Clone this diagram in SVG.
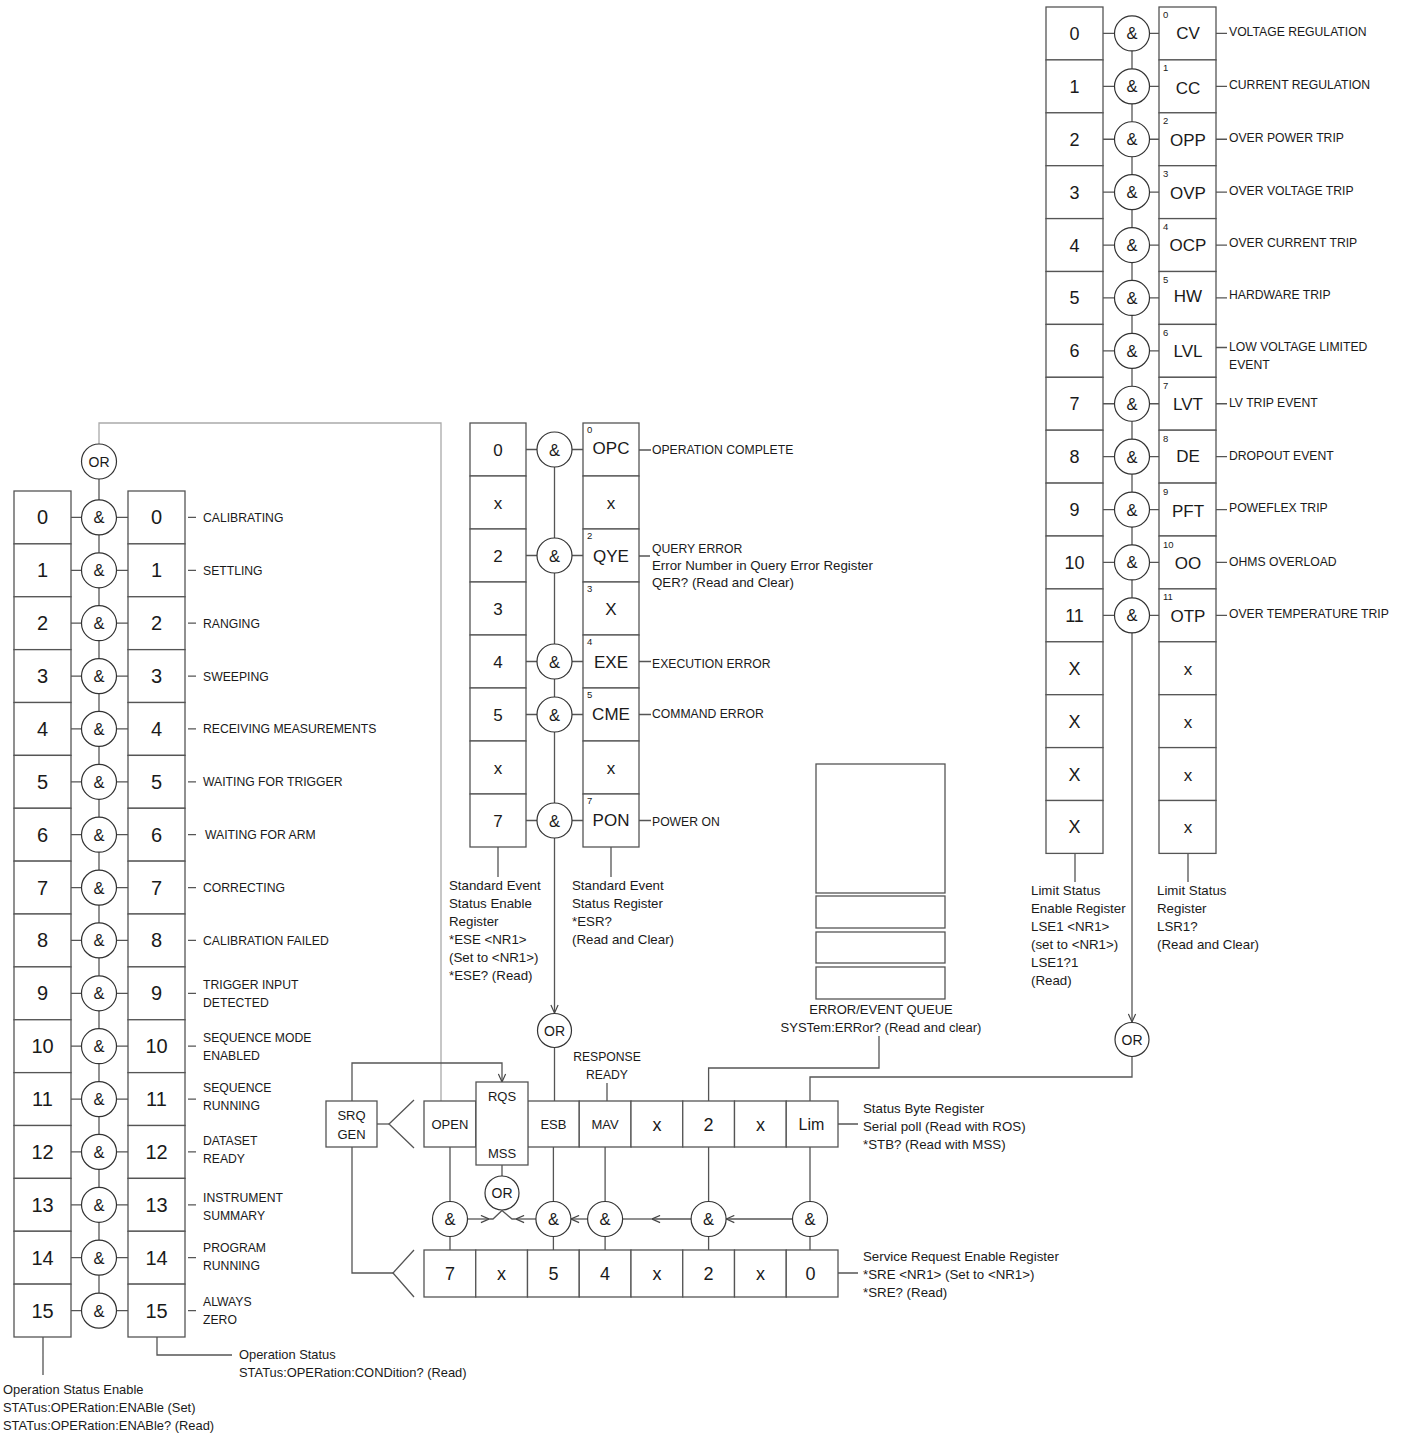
<svg xmlns="http://www.w3.org/2000/svg" width="1404" height="1437" viewBox="0 0 1404 1437">
<style>
.bg{fill:#fff}
.box{fill:#fff;stroke:#555;stroke-width:1.3}
.gate{fill:#fff;stroke:#333;stroke-width:1.2}
.ln{fill:none;stroke:#555;stroke-width:1.3}
.lg{fill:none;stroke:#aaa;stroke-width:1.3}
text{font-family:"Liberation Sans",Arial,sans-serif;fill:#1a1a1a}
.c{text-anchor:middle}
.d20{font-size:20px}
.d17{font-size:17px}
.d16{font-size:16px}
.d18{font-size:18px}
.g{font-size:14px;text-anchor:middle}
.amp{font-size:16.5px;text-anchor:middle}
.cap{font-size:12.2px}
.lab{font-size:13.3px}
.lab2{font-size:12.9px}
.sm{font-size:13px}
.sup{font-size:9.5px}
</style>
<defs>
<marker id="arr" viewBox="0 0 10 10" refX="10" refY="5" markerWidth="9" markerHeight="9" markerUnits="userSpaceOnUse" orient="auto"><path d="M1,1 L10,5 L1,9" fill="none" stroke="#444" stroke-width="1.3"/></marker>
</defs>
<rect class="bg" x="0" y="0" width="1404" height="1437"/>

<g id="connectors">
<!-- left block -->
<polyline class="lg" points="99,444 99,423 441,423 441,1101"/>
<line class="ln" x1="99" y1="479" x2="99" y2="1310"/>
<g class="ln">
<path d="M71,517.4H82M117,517.4H128M71,570.3H82M117,570.3H128M71,623.2H82M117,623.2H128M71,676.1H82M117,676.1H128M71,728.9H82M117,728.9H128M71,781.8H82M117,781.8H128M71,834.7H82M117,834.7H128M71,887.6H82M117,887.6H128M71,940.4H82M117,940.4H128M71,993.3H82M117,993.3H128M71,1046.2H82M117,1046.2H128M71,1099.1H82M117,1099.1H128M71,1151.9H82M117,1151.9H128M71,1204.8H82M117,1204.8H128M71,1257.7H82M117,1257.7H128M71,1310.6H82M117,1310.6H128"/>
<path d="M188,517.4H196M188,570.3H196M188,623.2H196M188,676.1H196M188,728.9H196M188,781.8H196M188,834.7H196M188,887.6H196M188,940.4H196M188,993.3H196M188,1046.2H196M188,1099.1H196M188,1151.9H196M188,1204.8H196M188,1257.7H196M188,1310.6H196"/>
<path d="M43,1337V1375M157,1337V1355H232"/>
</g>
<!-- middle block -->
<line class="ln" x1="554.5" y1="449.5" x2="554.5" y2="1013" marker-end="url(#arr)"/>
<g class="ln">
<path d="M526,449.5H537M572,449.5H583M526,555.5H537M572,555.5H583M526,661.5H537M572,661.5H583M526,714.5H537M572,714.5H583M526,820.5H537M572,820.5H583"/>
<path d="M639,450H651M639,556H650M639,661.5H651M639,714.5H651M639,820.5H651"/>
<path d="M498,847V877M611,847V877"/>
<path d="M554.5,1047.5V1101M607,1083V1101"/>
</g>
<!-- right block -->
<line class="ln" x1="1132" y1="33" x2="1132" y2="1022" marker-end="url(#arr)"/>
<g class="ln">
<path d="M1103,33.45H1114.5M1149.5,33.45H1159M1103,86.35H1114.5M1149.5,86.35H1159M1103,139.25H1114.5M1149.5,139.25H1159M1103,192.15H1114.5M1149.5,192.15H1159M1103,245.05H1114.5M1149.5,245.05H1159M1103,297.95H1114.5M1149.5,297.95H1159M1103,350.85H1114.5M1149.5,350.85H1159M1103,403.75H1114.5M1149.5,403.75H1159M1103,456.65H1114.5M1149.5,456.65H1159M1103,509.55H1114.5M1149.5,509.55H1159M1103,562.45H1114.5M1149.5,562.45H1159M1103,615.35H1114.5M1149.5,615.35H1159"/>
<path d="M1216,33.45H1227M1216,86.35H1227M1216,139.25H1227M1216,192.15H1227M1216,245.05H1227M1216,297.95H1227M1216,347.5H1227M1216,403.75H1227M1216,456.65H1227M1216,509.55H1227M1216,562.45H1227M1216,615.35H1227"/>
<path d="M1075,853.4V882M1188,853.4V882"/>
</g>
<!-- status byte area -->
<g class="ln">
<polyline points="708.6,1101 708.6,1068 879,1068 879,1036"/>
<polyline points="810,1101 810,1077 1132,1077 1132,1056.5"/>
<polyline points="377,1124 389,1124"/>
<polyline points="414,1100 389,1124 414,1148"/>
<polyline points="352,1147 352,1273 393,1273"/>
<polyline points="414,1250 393,1273 414,1297"/>
<path d="M450,1147V1250M553.4,1147V1250M605.1,1147V1250M708.6,1147V1250M810,1147V1250M502,1165V1176"/>
<polyline points="489,1219 493,1219 502,1210.5"/>
<polyline points="516,1219 512,1219 502,1210.5"/>
<line x1="622.6" y1="1219" x2="652" y2="1219"/>
<path d="M838,1124H858M838,1273H858"/>
</g>
<polyline class="ln" points="352,1101 352,1063 502,1063 502,1082" marker-end="url(#arr)"/>
<line class="ln" x1="467.5" y1="1219" x2="489" y2="1219" marker-end="url(#arr)"/>
<line class="ln" x1="536" y1="1219" x2="516" y2="1219" marker-end="url(#arr)"/>
<line class="ln" x1="588" y1="1219" x2="571" y2="1219" marker-end="url(#arr)"/>
<line class="ln" x1="691" y1="1219" x2="652" y2="1219" marker-end="url(#arr)"/>
<line class="ln" x1="792.5" y1="1219" x2="726.2" y2="1219" marker-end="url(#arr)"/>
</g>

<!-- LEFT: Operation Status Enable register -->
<g id="op-enable">
<rect class="box" x="14" y="491" width="57" height="52.875"/>
<rect class="box" x="14" y="543.875" width="57" height="52.875"/>
<rect class="box" x="14" y="596.75" width="57" height="52.875"/>
<rect class="box" x="14" y="649.625" width="57" height="52.875"/>
<rect class="box" x="14" y="702.5" width="57" height="52.875"/>
<rect class="box" x="14" y="755.375" width="57" height="52.875"/>
<rect class="box" x="14" y="808.25" width="57" height="52.875"/>
<rect class="box" x="14" y="861.125" width="57" height="52.875"/>
<rect class="box" x="14" y="914" width="57" height="52.875"/>
<rect class="box" x="14" y="966.875" width="57" height="52.875"/>
<rect class="box" x="14" y="1019.75" width="57" height="52.875"/>
<rect class="box" x="14" y="1072.625" width="57" height="52.875"/>
<rect class="box" x="14" y="1125.5" width="57" height="52.875"/>
<rect class="box" x="14" y="1178.375" width="57" height="52.875"/>
<rect class="box" x="14" y="1231.25" width="57" height="52.875"/>
<rect class="box" x="14" y="1284.125" width="57" height="52.875"/>
<g class="c d20">
<text x="42.5" y="524.4">0</text><text x="42.5" y="577.3">1</text><text x="42.5" y="630.2">2</text><text x="42.5" y="683.1">3</text>
<text x="42.5" y="735.9">4</text><text x="42.5" y="788.8">5</text><text x="42.5" y="841.7">6</text><text x="42.5" y="894.6">7</text>
<text x="42.5" y="947.4">8</text><text x="42.5" y="1000.3">9</text><text x="42.5" y="1053.2">10</text><text x="42.5" y="1106.1">11</text>
<text x="42.5" y="1158.9">12</text><text x="42.5" y="1211.8">13</text><text x="42.5" y="1264.7">14</text><text x="42.5" y="1317.6">15</text>
</g>
</g>

<!-- LEFT: Operation Status condition register -->
<g id="op-condition">
<rect class="box" x="128" y="491" width="57" height="52.875"/>
<rect class="box" x="128" y="543.875" width="57" height="52.875"/>
<rect class="box" x="128" y="596.75" width="57" height="52.875"/>
<rect class="box" x="128" y="649.625" width="57" height="52.875"/>
<rect class="box" x="128" y="702.5" width="57" height="52.875"/>
<rect class="box" x="128" y="755.375" width="57" height="52.875"/>
<rect class="box" x="128" y="808.25" width="57" height="52.875"/>
<rect class="box" x="128" y="861.125" width="57" height="52.875"/>
<rect class="box" x="128" y="914" width="57" height="52.875"/>
<rect class="box" x="128" y="966.875" width="57" height="52.875"/>
<rect class="box" x="128" y="1019.75" width="57" height="52.875"/>
<rect class="box" x="128" y="1072.625" width="57" height="52.875"/>
<rect class="box" x="128" y="1125.5" width="57" height="52.875"/>
<rect class="box" x="128" y="1178.375" width="57" height="52.875"/>
<rect class="box" x="128" y="1231.25" width="57" height="52.875"/>
<rect class="box" x="128" y="1284.125" width="57" height="52.875"/>
<g class="c d20">
<text x="156.5" y="524.4">0</text><text x="156.5" y="577.3">1</text><text x="156.5" y="630.2">2</text><text x="156.5" y="683.1">3</text>
<text x="156.5" y="735.9">4</text><text x="156.5" y="788.8">5</text><text x="156.5" y="841.7">6</text><text x="156.5" y="894.6">7</text>
<text x="156.5" y="947.4">8</text><text x="156.5" y="1000.3">9</text><text x="156.5" y="1053.2">10</text><text x="156.5" y="1106.1">11</text>
<text x="156.5" y="1158.9">12</text><text x="156.5" y="1211.8">13</text><text x="156.5" y="1264.7">14</text><text x="156.5" y="1317.6">15</text>
</g>
</g>

<!-- LEFT gates -->
<g id="op-gates">
<circle class="gate" cx="99" cy="461.5" r="17.5"/><text class="g" x="99" y="466.5">OR</text>
<circle class="gate" cx="99" cy="517.4" r="17.5"/><text class="amp" x="99" y="523.4">&amp;</text>
<circle class="gate" cx="99" cy="570.3" r="17.5"/><text class="amp" x="99" y="576.3">&amp;</text>
<circle class="gate" cx="99" cy="623.2" r="17.5"/><text class="amp" x="99" y="629.2">&amp;</text>
<circle class="gate" cx="99" cy="676.1" r="17.5"/><text class="amp" x="99" y="682.1">&amp;</text>
<circle class="gate" cx="99" cy="728.9" r="17.5"/><text class="amp" x="99" y="734.9">&amp;</text>
<circle class="gate" cx="99" cy="781.8" r="17.5"/><text class="amp" x="99" y="787.8">&amp;</text>
<circle class="gate" cx="99" cy="834.7" r="17.5"/><text class="amp" x="99" y="840.7">&amp;</text>
<circle class="gate" cx="99" cy="887.6" r="17.5"/><text class="amp" x="99" y="893.6">&amp;</text>
<circle class="gate" cx="99" cy="940.4" r="17.5"/><text class="amp" x="99" y="946.4">&amp;</text>
<circle class="gate" cx="99" cy="993.3" r="17.5"/><text class="amp" x="99" y="999.3">&amp;</text>
<circle class="gate" cx="99" cy="1046.2" r="17.5"/><text class="amp" x="99" y="1052.2">&amp;</text>
<circle class="gate" cx="99" cy="1099.1" r="17.5"/><text class="amp" x="99" y="1105.1">&amp;</text>
<circle class="gate" cx="99" cy="1151.9" r="17.5"/><text class="amp" x="99" y="1157.9">&amp;</text>
<circle class="gate" cx="99" cy="1204.8" r="17.5"/><text class="amp" x="99" y="1210.8">&amp;</text>
<circle class="gate" cx="99" cy="1257.7" r="17.5"/><text class="amp" x="99" y="1263.7">&amp;</text>
<circle class="gate" cx="99" cy="1310.6" r="17.5"/><text class="amp" x="99" y="1316.6">&amp;</text>
</g>

<g id="op-labels" class="cap">
<text x="203" y="521.8">CALIBRATING</text>
<text x="203" y="574.7">SETTLING</text>
<text x="203" y="627.6">RANGING</text>
<text x="203" y="680.5">SWEEPING</text>
<text x="203" y="733.3">RECEIVING MEASUREMENTS</text>
<text x="203" y="786.2">WAITING FOR TRIGGER</text>
<text x="205" y="839.1">WAITING FOR ARM</text>
<text x="203" y="892">CORRECTING</text>
<text x="203" y="944.8">CALIBRATION FAILED</text>
<text x="203" y="989.4">TRIGGER INPUT</text><text x="203" y="1007.4">DETECTED</text>
<text x="203" y="1042.4">SEQUENCE MODE</text><text x="203" y="1060.4">ENABLED</text>
<text x="203" y="1092.4">SEQUENCE</text><text x="203" y="1110.4">RUNNING</text>
<text x="203" y="1145.4">DATASET</text><text x="203" y="1163.4">READY</text>
<text x="203" y="1202.4">INSTRUMENT</text><text x="203" y="1220.4">SUMMARY</text>
<text x="203" y="1252.4">PROGRAM</text><text x="203" y="1270.4">RUNNING</text>
<text x="203" y="1306.4">ALWAYS</text><text x="203" y="1324.4">ZERO</text>
</g>
<g id="op-captions" class="lab2">
<text x="3" y="1393.7">Operation Status Enable</text>
<text x="3" y="1411.7">STATus:OPERation:ENABle (Set)</text>
<text x="3" y="1429.7">STATus:OPERation:ENABle? (Read)</text>
<text x="239" y="1358.7">Operation Status</text>
<text x="239" y="1376.7">STATus:OPERation:CONDition? (Read)</text>
</g>

<!-- MIDDLE: Standard Event Status Enable register -->
<g id="ese-reg">
<rect class="box" x="470" y="423" width="56" height="53"/>
<rect class="box" x="470" y="476" width="56" height="53"/>
<rect class="box" x="470" y="529" width="56" height="53"/>
<rect class="box" x="470" y="582" width="56" height="53"/>
<rect class="box" x="470" y="635" width="56" height="53"/>
<rect class="box" x="470" y="688" width="56" height="53"/>
<rect class="box" x="470" y="741" width="56" height="53"/>
<rect class="box" x="470" y="794" width="56" height="53"/>
<g class="c d17">
<text x="498" y="455.5">0</text><text x="498" y="508.5">x</text><text x="498" y="561.5">2</text><text x="498" y="614.5">3</text>
<text x="498" y="667.5">4</text><text x="498" y="720.5">5</text><text x="498" y="773.5">x</text><text x="498" y="826.5">7</text>
</g>
</g>
<!-- MIDDLE: Standard Event Status register -->
<g id="esr-reg">
<rect class="box" x="583" y="423" width="56" height="53"/>
<rect class="box" x="583" y="476" width="56" height="53"/>
<rect class="box" x="583" y="529" width="56" height="53"/>
<rect class="box" x="583" y="582" width="56" height="53"/>
<rect class="box" x="583" y="635" width="56" height="53"/>
<rect class="box" x="583" y="688" width="56" height="53"/>
<rect class="box" x="583" y="741" width="56" height="53"/>
<rect class="box" x="583" y="794" width="56" height="53"/>
<g class="c d17">
<text x="611" y="454">OPC</text><text x="611" y="508.5">x</text><text x="611" y="561.5">QYE</text><text x="611" y="614.5">X</text>
<text x="611" y="667.5">EXE</text><text x="611" y="719.5">CME</text><text x="611" y="773.5">x</text><text x="611" y="825.5">PON</text>
</g>
<g class="sup">
<text x="587" y="433">0</text><text x="587" y="539">2</text><text x="587" y="592">3</text><text x="587" y="645">4</text><text x="587" y="698">5</text><text x="587" y="804">7</text>
</g>
</g>
<g id="es-gates">
<circle class="gate" cx="554.5" cy="449.5" r="17.5"/><text class="amp" x="554.5" y="455.5">&amp;</text>
<circle class="gate" cx="554.5" cy="555.5" r="17.5"/><text class="amp" x="554.5" y="561.5">&amp;</text>
<circle class="gate" cx="554.5" cy="661.5" r="17.5"/><text class="amp" x="554.5" y="667.5">&amp;</text>
<circle class="gate" cx="554.5" cy="714.5" r="17.5"/><text class="amp" x="554.5" y="720.5">&amp;</text>
<circle class="gate" cx="554.5" cy="820.5" r="17.5"/><text class="amp" x="554.5" y="826.5">&amp;</text>
<circle class="gate" cx="554.5" cy="1030.5" r="17"/><text class="g" x="554.5" y="1035.5">OR</text>
</g>
<g id="es-labels">
<g class="cap">
<text x="652" y="454.3">OPERATION COMPLETE</text>
<text x="652" y="553.3">QUERY ERROR</text>
<text x="652" y="668.3">EXECUTION ERROR</text>
<text x="652" y="718.3">COMMAND ERROR</text>
<text x="652" y="826.3">POWER ON</text>
</g>
<g class="lab">
<text x="652" y="569.5">Error Number in Query Error Register</text>
<text x="652" y="586.5">QER? (Read and Clear)</text>
<text x="449" y="889.7">Standard Event</text>
<text x="449" y="907.7">Status Enable</text>
<text x="449" y="925.7">Register</text>
<text x="449" y="943.7">*ESE &lt;NR1&gt;</text>
<text x="449" y="961.7">(Set to &lt;NR1&gt;)</text>
<text x="449" y="979.7">*ESE? (Read)</text>
<text x="572" y="889.7">Standard Event</text>
<text x="572" y="907.7">Status Register</text>
<text x="572" y="925.7">*ESR?</text>
<text x="572" y="943.7">(Read and Clear)</text>
</g>
</g>

<!-- RIGHT: Limit Status Enable register -->
<g id="lse-reg">
<rect class="box" x="1046" y="7" width="57" height="52.9"/>
<rect class="box" x="1046" y="59.9" width="57" height="52.9"/>
<rect class="box" x="1046" y="112.8" width="57" height="52.9"/>
<rect class="box" x="1046" y="165.7" width="57" height="52.9"/>
<rect class="box" x="1046" y="218.6" width="57" height="52.9"/>
<rect class="box" x="1046" y="271.5" width="57" height="52.9"/>
<rect class="box" x="1046" y="324.4" width="57" height="52.9"/>
<rect class="box" x="1046" y="377.3" width="57" height="52.9"/>
<rect class="box" x="1046" y="430.2" width="57" height="52.9"/>
<rect class="box" x="1046" y="483.1" width="57" height="52.9"/>
<rect class="box" x="1046" y="536" width="57" height="52.9"/>
<rect class="box" x="1046" y="588.9" width="57" height="52.9"/>
<rect class="box" x="1046" y="641.8" width="57" height="52.9"/>
<rect class="box" x="1046" y="694.7" width="57" height="52.9"/>
<rect class="box" x="1046" y="747.6" width="57" height="52.9"/>
<rect class="box" x="1046" y="800.5" width="57" height="52.9"/>
<g class="c d18">
<text x="1074.5" y="39.9">0</text><text x="1074.5" y="92.8">1</text><text x="1074.5" y="145.7">2</text><text x="1074.5" y="198.6">3</text>
<text x="1074.5" y="251.5">4</text><text x="1074.5" y="304.4">5</text><text x="1074.5" y="357.3">6</text><text x="1074.5" y="410.2">7</text>
<text x="1074.5" y="463.1">8</text><text x="1074.5" y="516">9</text><text x="1074.5" y="568.9">10</text><text x="1074.5" y="621.8">11</text>
<text x="1074.5" y="674.7">X</text><text x="1074.5" y="727.6">X</text><text x="1074.5" y="780.5">X</text><text x="1074.5" y="833.4">X</text>
</g>
</g>
<!-- RIGHT: Limit Status register -->
<g id="lsr-reg">
<rect class="box" x="1159" y="7" width="57" height="52.9"/>
<rect class="box" x="1159" y="59.9" width="57" height="52.9"/>
<rect class="box" x="1159" y="112.8" width="57" height="52.9"/>
<rect class="box" x="1159" y="165.7" width="57" height="52.9"/>
<rect class="box" x="1159" y="218.6" width="57" height="52.9"/>
<rect class="box" x="1159" y="271.5" width="57" height="52.9"/>
<rect class="box" x="1159" y="324.4" width="57" height="52.9"/>
<rect class="box" x="1159" y="377.3" width="57" height="52.9"/>
<rect class="box" x="1159" y="430.2" width="57" height="52.9"/>
<rect class="box" x="1159" y="483.1" width="57" height="52.9"/>
<rect class="box" x="1159" y="536" width="57" height="52.9"/>
<rect class="box" x="1159" y="588.9" width="57" height="52.9"/>
<rect class="box" x="1159" y="641.8" width="57" height="52.9"/>
<rect class="box" x="1159" y="694.7" width="57" height="52.9"/>
<rect class="box" x="1159" y="747.6" width="57" height="52.9"/>
<rect class="box" x="1159" y="800.5" width="57" height="52.9"/>
<g class="c d17">
<text x="1188" y="38.9">CV</text><text x="1188" y="93.8">CC</text><text x="1188" y="145.7">OPP</text><text x="1188" y="198.6">OVP</text>
<text x="1188" y="250.5">OCP</text><text x="1188" y="302.4">HW</text><text x="1188" y="357.3">LVL</text><text x="1188" y="410.2">LVT</text>
<text x="1188" y="462.1">DE</text><text x="1188" y="517">PFT</text><text x="1188" y="568.9">OO</text><text x="1188" y="621.8">OTP</text>
<text x="1188" y="674.7">x</text><text x="1188" y="727.6">x</text><text x="1188" y="780.5">x</text><text x="1188" y="833.4">x</text>
</g>
<g class="sup">
<text x="1163" y="18">0</text><text x="1163" y="71">1</text><text x="1163" y="124">2</text><text x="1163" y="177">3</text>
<text x="1163" y="230">4</text><text x="1163" y="283">5</text><text x="1163" y="336">6</text><text x="1163" y="389">7</text>
<text x="1163" y="442">8</text><text x="1163" y="495">9</text><text x="1163" y="548">10</text><text x="1163" y="600">11</text>
</g>
</g>
<g id="ls-gates">
<circle class="gate" cx="1132" cy="33.45" r="17.5"/><text class="amp" x="1132" y="39.45">&amp;</text>
<circle class="gate" cx="1132" cy="86.35" r="17.5"/><text class="amp" x="1132" y="92.35">&amp;</text>
<circle class="gate" cx="1132" cy="139.25" r="17.5"/><text class="amp" x="1132" y="145.25">&amp;</text>
<circle class="gate" cx="1132" cy="192.15" r="17.5"/><text class="amp" x="1132" y="198.15">&amp;</text>
<circle class="gate" cx="1132" cy="245.05" r="17.5"/><text class="amp" x="1132" y="251.05">&amp;</text>
<circle class="gate" cx="1132" cy="297.95" r="17.5"/><text class="amp" x="1132" y="303.95">&amp;</text>
<circle class="gate" cx="1132" cy="350.85" r="17.5"/><text class="amp" x="1132" y="356.85">&amp;</text>
<circle class="gate" cx="1132" cy="403.75" r="17.5"/><text class="amp" x="1132" y="409.75">&amp;</text>
<circle class="gate" cx="1132" cy="456.65" r="17.5"/><text class="amp" x="1132" y="462.65">&amp;</text>
<circle class="gate" cx="1132" cy="509.55" r="17.5"/><text class="amp" x="1132" y="515.55">&amp;</text>
<circle class="gate" cx="1132" cy="562.45" r="17.5"/><text class="amp" x="1132" y="568.45">&amp;</text>
<circle class="gate" cx="1132" cy="615.35" r="17.5"/><text class="amp" x="1132" y="621.35">&amp;</text>
<circle class="gate" cx="1132" cy="1039.5" r="17"/><text class="g" x="1132" y="1044.5">OR</text>
</g>
<g id="ls-labels">
<g class="cap">
<text x="1229" y="36.3">VOLTAGE REGULATION</text>
<text x="1229" y="89.3">CURRENT REGULATION</text>
<text x="1229" y="142.3">OVER POWER TRIP</text>
<text x="1229" y="195.3">OVER VOLTAGE TRIP</text>
<text x="1229" y="247.3">OVER CURRENT TRIP</text>
<text x="1229" y="299.3">HARDWARE TRIP</text>
<text x="1229" y="351.3">LOW VOLTAGE LIMITED</text><text x="1229" y="369.3">EVENT</text>
<text x="1229" y="407.3">LV TRIP EVENT</text>
<text x="1229" y="460.3">DROPOUT EVENT</text>
<text x="1229" y="512.3">POWEFLEX TRIP</text>
<text x="1229" y="566.3">OHMS OVERLOAD</text>
<text x="1229" y="618.3">OVER TEMPERATURE TRIP</text>
</g>
<g class="lab">
<text x="1031" y="894.7">Limit Status</text>
<text x="1031" y="912.7">Enable Register</text>
<text x="1031" y="930.7">LSE1 &lt;NR1&gt;</text>
<text x="1031" y="948.7">(set to &lt;NR1&gt;)</text>
<text x="1031" y="966.7">LSE1?1</text>
<text x="1031" y="984.7">(Read)</text>
<text x="1157" y="894.7">Limit Status</text>
<text x="1157" y="912.7">Register</text>
<text x="1157" y="930.7">LSR1?</text>
<text x="1157" y="948.7">(Read and Clear)</text>
</g>
</g>

<!-- Error / event queue -->
<g id="error-queue">
<rect class="box" x="816" y="764" width="129" height="129"/>
<rect class="box" x="816" y="896" width="129" height="32"/>
<rect class="box" x="816" y="932" width="129" height="31"/>
<rect class="box" x="816" y="967" width="129" height="32"/>
<text class="c sm" x="881" y="1013.5">ERROR/EVENT QUEUE</text>
<text class="c sm" x="881" y="1031.5">SYSTem:ERRor? (Read and clear)</text>
</g>

<!-- SRQ GEN -->
<g id="srq-gen">
<rect class="box" x="326" y="1101" width="51" height="46"/>
<text class="c sm" x="351.5" y="1119.5">SRQ</text>
<text class="c sm" x="351.5" y="1138.5">GEN</text>
</g>

<!-- Status byte register -->
<g id="status-byte">
<rect class="box" x="424" y="1101" width="51.75" height="46"/>
<rect class="box" x="527.5" y="1101" width="51.75" height="46"/>
<rect class="box" x="579.25" y="1101" width="51.75" height="46"/>
<rect class="box" x="631" y="1101" width="51.75" height="46"/>
<rect class="box" x="682.75" y="1101" width="51.75" height="46"/>
<rect class="box" x="734.5" y="1101" width="51.75" height="46"/>
<rect class="box" x="786.25" y="1101" width="51.75" height="46"/>
<text class="c sm" x="449.9" y="1128.7">OPEN</text>
<text class="c sm" x="553.4" y="1128.7">ESB</text>
<text class="c sm" x="605.1" y="1128.7">MAV</text>
<text class="c d18" x="656.9" y="1130.5">x</text>
<text class="c d18" x="708.6" y="1130.5">2</text>
<text class="c d18" x="760.4" y="1130.5">x</text>
<text class="c d16" x="811.5" y="1130">Lim</text>
</g>
<g id="rqs-mss">
<rect class="box" x="476" y="1082" width="52" height="83"/>
<text class="c sm" x="502" y="1100.5">RQS</text>
<text class="c sm" x="502" y="1157.5">MSS</text>
</g>
<g id="response-ready">
<text class="c cap" x="607" y="1061.3">RESPONSE</text>
<text class="c cap" x="607" y="1079.3">READY</text>
</g>
<g id="status-byte-label" class="lab">
<text x="863" y="1112.7">Status Byte Register</text>
<text x="863" y="1130.7">Serial poll (Read with ROS)</text>
<text x="863" y="1148.7">*STB? (Read with MSS)</text>
</g>

<!-- SRE gates -->
<g id="sre-gates">
<circle class="gate" cx="502" cy="1193" r="17"/><text class="g" x="502" y="1198">OR</text>
<circle class="gate" cx="450" cy="1219" r="17.5"/><text class="amp" x="450" y="1225">&amp;</text>
<circle class="gate" cx="553.4" cy="1219" r="17.5"/><text class="amp" x="553.4" y="1225">&amp;</text>
<circle class="gate" cx="605.1" cy="1219" r="17.5"/><text class="amp" x="605.1" y="1225">&amp;</text>
<circle class="gate" cx="708.6" cy="1219" r="17.5"/><text class="amp" x="708.6" y="1225">&amp;</text>
<circle class="gate" cx="810" cy="1219" r="17.5"/><text class="amp" x="810" y="1225">&amp;</text>
</g>

<!-- Service request enable register -->
<g id="sre-reg">
<rect class="box" x="424" y="1250" width="51.75" height="47"/>
<rect class="box" x="475.75" y="1250" width="51.75" height="47"/>
<rect class="box" x="527.5" y="1250" width="51.75" height="47"/>
<rect class="box" x="579.25" y="1250" width="51.75" height="47"/>
<rect class="box" x="631" y="1250" width="51.75" height="47"/>
<rect class="box" x="682.75" y="1250" width="51.75" height="47"/>
<rect class="box" x="734.5" y="1250" width="51.75" height="47"/>
<rect class="box" x="786.25" y="1250" width="51.75" height="47"/>
<g class="c d18">
<text x="449.9" y="1279.5">7</text><text x="501.6" y="1279.5">x</text><text x="553.4" y="1279.5">5</text><text x="605.1" y="1279.5">4</text>
<text x="656.9" y="1279.5">x</text><text x="708.6" y="1279.5">2</text><text x="760.4" y="1279.5">x</text><text x="810.5" y="1279.5">0</text>
</g>
</g>
<g id="sre-label" class="lab">
<text x="863" y="1260.7">Service Request Enable Register</text>
<text x="863" y="1278.7">*SRE &lt;NR1&gt; (Set to &lt;NR1&gt;)</text>
<text x="863" y="1296.7">*SRE? (Read)</text>
</g>
</svg>
